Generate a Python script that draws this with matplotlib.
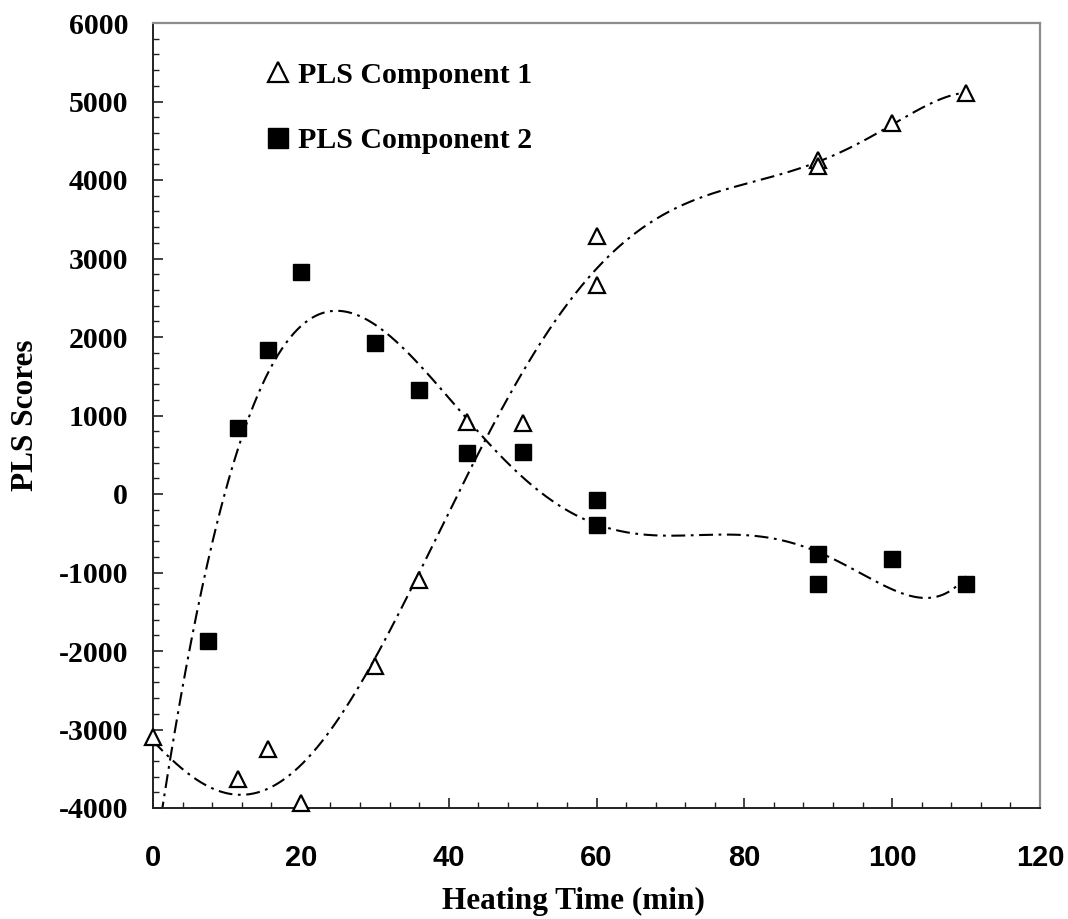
import numpy as np
import matplotlib
matplotlib.use("Agg")
from matplotlib import pyplot as plt
from matplotlib.ticker import MultipleLocator

# heating times (min) and PLS scores; a few scores fall below the axis floor
time_c1 = [0, 7.5, 11.5, 15.5, 20, 30, 36, 42.5, 50, 60, 60, 90, 90, 100, 110]
score_c1 = [-3100, -4050, -3630, -3250, -3930, -2190, -1096, 920, 900, 3287, 2660, 4255, 4180, 4726, 5108]

time_c2 = [0, 7.5, 11.5, 15.5, 20, 30, 36, 42.5, 50, 60, 60, 90, 90, 100, 110]
score_c2 = [-4500, -1873, 841, 1834, 2828, 1924, 1330, 522, 535, -76, -395, -764, -1146, -828, -1146]

xticks = [0, 20, 40, 60, 80, 100, 120]
yticks = [-4000, -3000, -2000, -1000, 0, 1000, 2000, 3000, 4000, 5000, 6000]
ymin, ymax = -4000, 6000

plt.rcParams['lines.scale_dashes'] = False
plt.rcParams['axes.unicode_minus'] = False
serif = 'Liberation Serif'
sans = 'Liberation Sans'

fig = plt.figure(figsize=(10.68, 9.19), dpi=100)
ax = fig.add_axes([153/1068, 1 - 808/919, 887/1068, 785/919])

# 6th order polynomial trend lines
def trend(x, y):
    x = np.asarray(x, float)
    y = np.asarray(y, float)
    coef = np.polyfit(x / 100.0, y, 6)
    xs = np.linspace(min(x), max(x), 600)
    return xs, np.polyval(coef, xs / 100.0)

dash = (10, 4, 2, 4)
xs, ys = trend(time_c1, score_c1)
ax.plot(xs, ys, color='black', lw=1.5, dashes=dash, zorder=2)
xs, ys = trend(time_c2, score_c2)
ax.plot(xs, ys, color='black', lw=1.5, dashes=dash, zorder=2)

# points outside the y range are not drawn
m1 = np.ma.masked_outside(score_c1, ymin, ymax)
m2 = np.ma.masked_outside(score_c2, ymin, ymax)
ax.plot(time_c1, m1, ls='none', marker='^', ms=11.5, mfc='white', mec='black',
        mew=1.6, label='PLS Component 1', zorder=3, clip_on=False)
ax.plot(time_c2, m2, ls='none', marker='s', ms=11, mfc='black', mec='black',
        mew=1, label='PLS Component 2', zorder=3, clip_on=False)

ax.set_xlim(0, 120)
ax.set_ylim(ymin, ymax)
ax.set_xticks(xticks)
ax.set_yticks(yticks)
ax.xaxis.set_minor_locator(MultipleLocator(4))
ax.yaxis.set_minor_locator(MultipleLocator(200))

ax.tick_params(which='major', direction='in', length=7, width=1.2, color='#222222')
ax.tick_params(which='minor', direction='in', length=4, width=1.0, color='#222222')
ax.tick_params(axis='x', which='major', pad=26)
ax.tick_params(axis='y', which='major', pad=18)

for lab in ax.get_xticklabels():
    lab.set_fontfamily(sans)
    lab.set_fontweight('bold')
    lab.set_fontsize(21)
for lab in ax.get_yticklabels():
    lab.set_fontfamily(serif)
    lab.set_fontweight('bold')
    lab.set_fontsize(21.5)

for side in ['left', 'bottom']:
    ax.spines[side].set_color('#222222')
    ax.spines[side].set_linewidth(1.4)
for side in ['top', 'right']:
    ax.spines[side].set_color('#8c8c8c')
    ax.spines[side].set_linewidth(1.6)

ax.set_xlabel('Heating Time (min)', fontfamily=serif, fontweight='bold', fontsize=22.5)
ax.set_ylabel('PLS Scores', fontfamily=serif, fontweight='bold', fontsize=22.5)
ax.xaxis.set_label_coords(0.474, -0.1)
ax.yaxis.set_label_coords(-0.127, 0.5)

leg = ax.legend(loc='upper left', bbox_to_anchor=(0.1, 0.985), frameon=False,
                prop={'family': serif, 'weight': 'bold', 'size': 21.5},
                handlelength=0.6, handletextpad=0.4, labelspacing=1.3,
                markerscale=1.3)

fig.savefig('out.png', dpi=100)
